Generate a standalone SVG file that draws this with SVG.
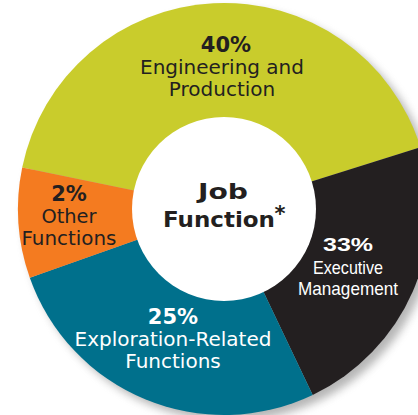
<svg xmlns="http://www.w3.org/2000/svg" width="418" height="415" viewBox="0 0 418 415">
<style>
.lbl{font-family:"DejaVu Sans","Liberation Sans",sans-serif;font-size:20px;text-anchor:middle}
.pct{font-family:"DejaVu Sans","Liberation Sans",sans-serif;font-weight:bold;font-size:21px;text-anchor:middle}
.cond{font-family:"Liberation Sans Narrow","Liberation Sans",sans-serif;font-size:19px;text-anchor:middle;fill:#ffffff}
.dark{fill:#231f20}
.light{fill:#ffffff}
</style>
<defs>
<filter id="shadow" x="-20%" y="-20%" width="140%" height="140%">
<feGaussianBlur stdDeviation="4"/>
</filter>
</defs>
<rect width="418" height="415" fill="#ffffff"/>
<circle cx="230" cy="215" r="206" fill="#7a7a7a" opacity="0.55" filter="url(#shadow)"/>
<g id="slice-engineering">
<path d="M224,209 L22.2,167.6 A206,206 0 0 1 420.5,147.1 Z" fill="#c9cc2c"/>
<text class="pct dark" x="226" y="52">40%</text>
<text class="lbl dark" x="222" y="74">Engineering and</text>
<text class="lbl dark" x="222" y="96">Production</text>
</g>
<g id="slice-executive">
<path d="M224,209 L420.5,147.1 A206,206 0 0 1 312.7,394.9 Z" fill="#231f20"/>
<text class="cond" x="348" y="251" font-weight="bold" font-size="21" textLength="50" lengthAdjust="spacingAndGlyphs">33%</text>
<text class="cond" x="348" y="274" textLength="70" lengthAdjust="spacingAndGlyphs">Executive</text>
<text class="cond" x="348" y="295" textLength="100" lengthAdjust="spacingAndGlyphs">Management</text>
</g>
<g id="slice-exploration">
<path d="M224,209 L312.7,394.9 A206,206 0 0 1 29.8,277.8 Z" fill="#00708c"/>
<text class="pct light" x="173" y="324">25%</text>
<text class="lbl light" x="173" y="346">Exploration-Related</text>
<text class="lbl light" x="173" y="368">Functions</text>
</g>
<g id="slice-other">
<path d="M224,209 L29.8,277.8 A206,206 0 0 1 22.2,167.6 Z" fill="#f47b20"/>
<text class="pct dark" x="69" y="201" font-size="19">2%</text>
<text class="lbl dark" x="69" y="223" font-size="18.5" textLength="55" lengthAdjust="spacingAndGlyphs">Other</text>
<text class="lbl dark" x="69" y="245" font-size="18.5" textLength="95" lengthAdjust="spacingAndGlyphs">Functions</text>
</g>
<g id="center">
<circle cx="224" cy="209" r="92" fill="#ffffff"/>
<text class="pct dark" x="223" y="199" font-size="26" textLength="50" lengthAdjust="spacingAndGlyphs">Job</text>
<text class="pct dark" x="219" y="227" font-size="26" textLength="112" lengthAdjust="spacingAndGlyphs">Function</text>
<text class="pct dark" x="280" y="221" font-size="13">*</text>
</g>
<g id="connectors"/>
</svg>
